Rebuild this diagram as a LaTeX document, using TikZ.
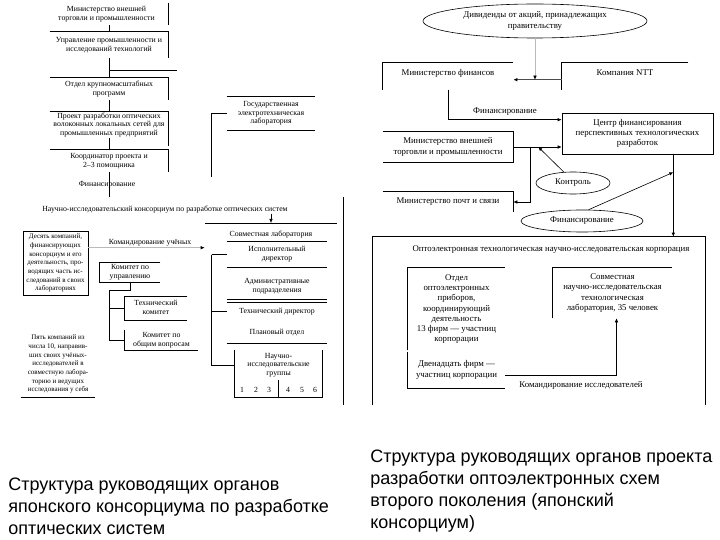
\documentclass[tikz,border=0pt]{standalone}
\usepackage{fontspec}
\setmainfont{Liberation Serif}
\newfontfamily\legende{Liberation Sans}
\usetikzlibrary{arrows,arrows.meta,shapes,positioning,calc}
\setlength{\tabcolsep}{0pt}

\begin{document}
\begin{tikzpicture}[x=1pt,y=-1pt,line width=0.6pt,
  petit/.style={font=\fontsize{7.8}{8.6}\selectfont,inner sep=0pt},
  menu/.style={font=\fontsize{7}{8.7}\selectfont,inner sep=0pt},
  moyen/.style={font=\fontsize{8.8}{10.3}\selectfont,inner sep=0pt},
  fleche/.style={-{Latex[length=4pt,width=3.5pt]}},
  grise/.style={draw=gray!55,-{Latex[length=4pt,width=3.5pt,black]}}]
\useasboundingbox (0,0) rectangle (720,540);

% schema de gauche : noeuds
\node (MVT) at (106.5,14) [petit,minimum width=123,minimum height=22] {\begin{tabular}{c}Министерство внешней\\торговли и промышленности\end{tabular}};
\node (UPN) at (109,45) [petit,minimum width=118,minimum height=26] {\begin{tabular}{c}Управление промышленности и\\исследований технологий\end{tabular}};
\node (OKP) at (109,89) [petit,minimum width=118,minimum height=22] {\begin{tabular}{c}Отдел крупномасштабных\\программ\end{tabular}};
\node (PRO) at (109,125) [petit,minimum width=118,minimum height=24] {\begin{tabular}{c}Проект разработки оптических\\волоконных локальных сетей для\\промышленных предприятий\end{tabular}};
\node (KOO) at (109,161) [petit,minimum width=118,minimum height=22] {\begin{tabular}{c}Координатор проекта и\\2--3 помощника\end{tabular}};
\node (FIN) at (107,185) [petit] {Финансирование};
\node (GEL) at (271,113.5) [petit,minimum width=88,minimum height=33] {\begin{tabular}{c}Государственная\\электротехническая\\лаборатория\end{tabular}};
\node (KONS) at (165,210) [petit] {Научно-исследовательский консорциум по разработке оптических систем};
\node (DES) at (55.5,263) [menu,draw,minimum width=65,minimum height=64] {\begin{tabular}{c}Десять компаний,\\финансирующих\\консорциум и его\\деятельность, про-\\водящих часть ис-\\следований в своих\\лабораториях\end{tabular}};
\node (KOM) at (150,243) [petit] {Командирование учёных};
\node (KU) at (130,272.5) [petit,minimum width=60,minimum height=19] {\begin{tabular}{c}Комитет по\\управлению\end{tabular}};
\node (TK) at (156,308.5) [petit,minimum width=62,minimum height=23] {\begin{tabular}{c}Технический\\комитет\end{tabular}};
\node (KOV) at (161.5,340) [petit,minimum width=73,minimum height=20] {\begin{tabular}{c}Комитет по\\общим вопросам\end{tabular}};
\node (PYAT) at (58,364) [menu,minimum width=74,minimum height=66] {\begin{tabular}{c}Пять компаний из\\числа 10, направив-\\ших своих учёных-\\исследователей в\\совместную лабора-\\торию и ведущих\\исследования у себя\end{tabular}};
\node (SL) at (271,235) [petit] {Совместная лаборатория};
\node (ID) at (277,254.5) [petit,minimum width=100,minimum height=25] {\begin{tabular}{c}Исполнительный\\директор\end{tabular}};
\node (AP) at (277,286) [petit,minimum width=100,minimum height=26] {\begin{tabular}{c}Административные\\подразделения\end{tabular}};
\node (TD) at (277,311.5) [petit,minimum width=100,minimum height=17] {Технический директор};
\node (PO) at (277,333) [petit,minimum width=100,minimum height=20] {Плановый отдел};
\node (NIG) at (278.5,373.5) [petit,minimum width=87,minimum height=47] {};
\node (NIGT) at (278.5,365) [petit] {\begin{tabular}{c}Научно-\\исследовательские\\группы\end{tabular}};
\foreach \n/\x in {1/242,2/256,3/269,4/288,5/302,6/315}
  \node (N\n) at (\x,390) [petit] {\n};

% schema de gauche : cadres et liaisons
\draw (MVT.north east) -- (MVT.south east);
\draw (UPN.north west) -- (UPN.north east) -- (UPN.south east);
\draw (OKP.north west) -- (OKP.north east) -- (OKP.south east);
\draw (PRO.north west) -- (PRO.north east) -- ++(0,34);
\draw (KOO.north west) -- (KOO.north east) -- (KOO.south east);
\draw (UPN.north) -- (UPN.north |- MVT.south);
\draw (UPN) -- (OKP);
\draw (OKP) -- (PRO);
\draw (PRO) -- (KOO);
\coordinate (KT) at (109,197);
\draw (KOO.south) -- (KT);
\draw ($(UPN.south)!0.6!(OKP.north)$) -- ++(68,0);
\draw (GEL.north west) -- (GEL.north east);
\draw (GEL.south west) -- (GEL.south east);
\draw (GEL.west) -- ++(-15,0) -- ++(0,64);
\coordinate (SLH) at (271,223);
\coordinate (SLG) at (205,223);
\coordinate (SLD) at (337,223);
\draw (SLG) -- (SLD);
\draw[fleche] (KONS.south -| SLH) -- (SLH);
\draw (ID.north west) -- (ID.north east);
\draw (ID.south west) -- (ID.south east);
\draw (AP.south west) -- (AP.south east);
\draw (TD.north west) -- (TD.north east);
\draw (PO.south west) -- (PO.south east);
\draw (NIG.north west) -- (NIG.south west) -- (NIG.south east) -- (NIG.north east);
\draw ($(NIG.south)+(0,-17)$) -- (NIG.south);
\coordinate (bu) at ($(ID.west)+(-15,0)$);
\draw (bu) -- (ID.west);
\draw (bu) |- (TD.west);
\draw (bu) |- ($(NIG.south west)+(0,-32)$);
\coordinate (ks) at (DES.north east -| bu);
\draw[grise] ($(DES.north east)+(0,17)$) -- ($(ks)+(-7,17)$);
\draw (KU.north east) -- (KU.north west) -- (KU.south west) -- (KU.south east);
\draw (TK.north east) -- (TK.north west) -- (TK.south west) -- (TK.south east);
\draw (KOV.north west) -- (KOV.south west) -- (KOV.south east);
\coordinate (kb) at ($(KOV.west)+(-15,0)$);
\draw (KU.south) -- ++(0,8) -| (kb) -- (KOV.west);
\draw (kb |- TK.west) -- (TK.west);
\draw (PYAT.south west) -- (PYAT.south east);
\coordinate (CH) at (343,197);
\coordinate (CB) at (343,405);
\draw (CH) -- (CB);

% schema de droite : noeuds
\node (VLAD) at (535,21) [moyen,ellipse,draw,minimum width=224,minimum height=34] {\begin{tabular}{c}Дивиденды от акций, принадлежащих\\правительству\end{tabular}};
\node (MF) at (448,73) [moyen,minimum width=130,minimum height=20] {Министерство финансов};
\node (NTT) at (625,73) [moyen,minimum width=126,minimum height=20] {Компания NTT};
\node (FINT) at (505,112) [moyen] {Финансирование};
\node (CF) at (637.5,133.5) [moyen,draw,minimum width=151,minimum height=41] {\begin{tabular}{c}Центр финансирования\\перспективных технологических\\разработок\end{tabular}};
\node (MVT2) at (448,147) [moyen,minimum width=130,minimum height=30] {\begin{tabular}{c}Министерство внешней\\торговли и промышленности\end{tabular}};
\node (KONT) at (573,183) [moyen,ellipse,draw,minimum width=74,minimum height=22] {Контроль};
\node (MPS) at (448,202) [moyen,minimum width=130,minimum height=20] {Министерство почт и связи};
\node (FINE) at (582,221) [moyen,ellipse,draw,minimum width=122,minimum height=22] {Финансирование};
\node (KORP) at (539,321) [moyen,minimum width=332,minimum height=168] {};
\node (KORPT) at (551,250) [moyen] {Оптоэлектронная технологическая научно-исследовательская корпорация};
\node (OOP) at (456.5,309) [moyen,minimum width=97,minimum height=82] {\begin{tabular}{c}Отдел\\оптоэлектронных\\приборов,\\координирующий\\деятельность\\13 фирм --- участниц\\корпорации\end{tabular}};
\node (SNL) at (612.5,293) [moyen,minimum width=119,minimum height=50] {\begin{tabular}{c}Совместная\\научно-исследовательская\\технологическая\\лаборатория, 35 человек\end{tabular}};
\node (DF) at (456.5,370) [moyen,minimum width=97,minimum height=36] {\begin{tabular}{c}Двенадцать фирм ---\\участниц корпорации\end{tabular}};
\node (KOMI) at (581,385) [moyen] {Командирование исследователей};

% schema de droite : cadres et liaisons
\draw (MF.north east) -- (MF.north west) -- ++(0,27);
\draw (NTT.north east) -- (NTT.north west) -- ++(0,27);
\coordinate (mf1) at ($(MF.north east)+(0,17)$);
\draw[line width=1.2pt,draw=gray!60!black,-{Latex[length=4pt,width=3.5pt,black]}] ($(NTT.north west)+(0,17)$) -- (mf1);
\draw[grise] (VLAD.south) -- (VLAD.south |- mf1);
\draw[fleche] ($(MF.north)+(0,27)$) |- ($(CF.north west)+(0,7)$);
\draw (MVT2.north west) -- (MVT2.north east) -- (MVT2.south east) -- (MVT2.south west);
\draw[fleche] (MVT2.east) -- (MVT2.east -| CF.west);
\coordinate (bv) at ($(MVT2.east)+(17,0)$);
\draw[fleche] (bv) |- (MPS.east);
\draw[fleche] (KONT.130) -- ($(MVT2.east)+(25,0)$);
\draw (MPS.north west) -- (MPS.north east) -- (MPS.south east);
\coordinate (cf1) at ($(CF.south east)+(-40,0)$);
\draw[fleche] (cf1) -- (cf1 |- KORP.north);
\draw[fleche] (FINE.60) -- ($(cf1)+(0,18)$);
\draw (KORP.south west) -- (KORP.north west) -- (KORP.north east) -- (KORP.south east);
\draw (OOP.south west) -- (OOP.north west) -- (OOP.north east);
\draw (SNL.south west) -- (SNL.north west) -- (SNL.north east);
\draw (DF.north west) -- (DF.south west) -- (DF.south east);
\draw[fleche] ($(DF.south east)+(0,-13)$) -| ($(SNL.south)+(4,0)$);

% legendes
\node (LEG1) at (8,490) [anchor=base west,inner sep=0pt,font=\legende\fontsize{18}{22}\selectfont] {\begin{tabular}[t]{l}Структура руководящих органов\\японского консорциума по разработке\\оптических систем\end{tabular}};
\node (LEG2) at (370,462) [anchor=base west,inner sep=0pt,font=\legende\fontsize{18}{22}\selectfont] {\begin{tabular}[t]{l}Структура руководящих органов проекта\\разработки оптоэлектронных схем\\второго поколения (японский\\консорциум)\end{tabular}};
\end{tikzpicture}
\end{document}
